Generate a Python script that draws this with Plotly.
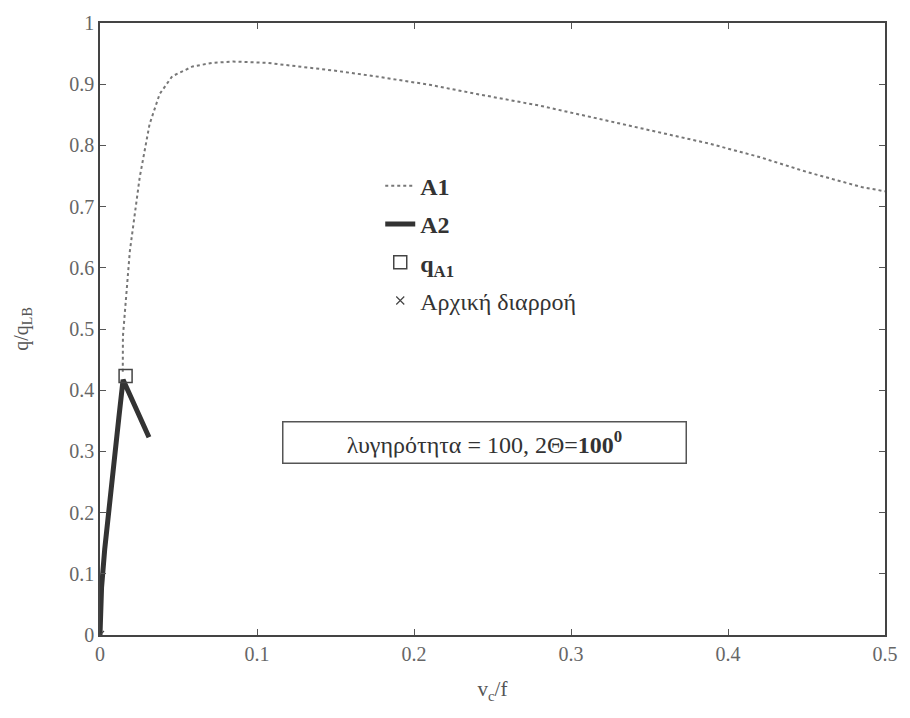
import plotly.graph_objects as go

# Data
a1_x = [0.0145, 0.0146, 0.019, 0.0253, 0.0316, 0.038, 0.046, 0.059, 0.072, 0.085, 0.106,
        0.127, 0.15, 0.175, 0.21, 0.24, 0.28, 0.315, 0.35, 0.388, 0.42, 0.451, 0.485, 0.5]
a1_y = [0.43, 0.488, 0.627, 0.748, 0.835, 0.884, 0.913, 0.929, 0.935, 0.937, 0.935,
        0.929, 0.922, 0.913, 0.899, 0.884, 0.865, 0.845, 0.825, 0.803, 0.781, 0.756, 0.732, 0.725]

a2_x = [0.0, 0.001, 0.003, 0.0063, 0.009, 0.012, 0.0147, 0.02, 0.025, 0.0312]
a2_y = [0.0, 0.078, 0.14, 0.213, 0.29, 0.355, 0.417, 0.388, 0.36, 0.323]

qa1_x = [0.0163]
qa1_y = [0.423]

init_x = [0.0]
init_y = [0.0]

x_ticks = [0, 0.1, 0.2, 0.3, 0.4, 0.5]
y_ticks = [0, 0.1, 0.2, 0.3, 0.4, 0.5, 0.6, 0.7, 0.8, 0.9, 1]
y_tick_text = ["0", "0.1", "0.2", "0.3", "0.4", "0.5", "0.6", "0.7", "0.8", "0.9", "1"]

FONT = "Liberation Serif, DejaVu Serif, serif"

fig = go.Figure()
fig.add_trace(go.Scatter(x=a1_x, y=a1_y, mode="lines", name="<b>A1</b>",
                         line=dict(color="#777777", width=2, dash="dot"),
                         legendgroup="g1"))
fig.add_trace(go.Scatter(x=a2_x, y=a2_y, mode="lines", name="<b>A2</b>",
                         line=dict(color="#333333", width=5),
                         legendgroup="g2"))
fig.add_trace(go.Scatter(x=qa1_x, y=qa1_y, mode="markers", name="<b>q<sub>A1</sub></b>",
                         marker=dict(symbol="square-open", size=13, color="#444444",
                                     line=dict(width=1.5, color="#444444")),
                         legendgroup="g3"))
fig.add_trace(go.Scatter(x=init_x, y=init_y, mode="markers", name="Αρχική διαρροή",
                         marker=dict(symbol="x-thin-open", size=8, color="#444444",
                                     line=dict(width=1.2, color="#444444")),
                         legendgroup="g4"))

fig.add_annotation(x=0.245, y=0.315, xref="x", yref="y",
                   text="λυγηρότητα = 100, 2Θ=<b>100<sup>0</sup></b>",
                   showarrow=False, font=dict(family=FONT, size=24, color="#333333"),
                   width=392, height=30, align="center",
                   bordercolor="#555555", borderwidth=1.5, borderpad=5, bgcolor="white")

axis_common = dict(showline=True, linecolor="#444444", linewidth=1.5, mirror="ticks",
                   ticks="inside", ticklen=6, tickcolor="#555555", showgrid=False,
                   zeroline=False, tickfont=dict(family=FONT, size=20, color="#666666"))

fig.update_xaxes(range=[0, 0.5], tickvals=x_ticks, ticktext=[str(v) for v in x_ticks],
                 title=dict(text="v<sub>c</sub>/f", font=dict(family=FONT, size=21, color="#555555"),
                            standoff=18),
                 **axis_common)
fig.update_yaxes(range=[0, 1], tickvals=y_ticks, ticktext=y_tick_text,
                 title=dict(text="q/q<sub>LB</sub>", font=dict(family=FONT, size=20, color="#555555"),
                            standoff=35),
                 **axis_common)

fig.update_layout(
    width=910, height=718,
    margin=dict(l=100, r=20, t=16, b=83),
    paper_bgcolor="white", plot_bgcolor="white",
    showlegend=True,
    legend=dict(x=0.357, y=0.77, xanchor="left", yanchor="top",
                bgcolor="rgba(0,0,0,0)", borderwidth=0,
                font=dict(family=FONT, size=24, color="#333333"),
                tracegroupgap=4, itemwidth=30),
)

fig.write_html("out.html")
